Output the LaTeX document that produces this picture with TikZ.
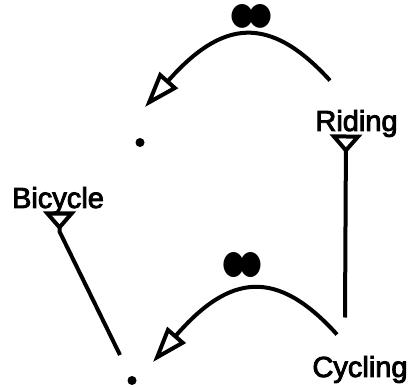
\documentclass[tikz,border=0pt]{standalone}
\usepackage{fontspec}
\setmainfont{Liberation Sans}
\newfontfamily\lblfont{Liberation Sans}[FakeBold=3]
\newfontfamily\symfont{DejaVu Sans}
\usetikzlibrary{arrows.meta,calc}
\begin{document}
\begin{tikzpicture}[x=1pt,y=-1pt, line width=4pt,
  lbl/.style={font=\lblfont\fontsize{29}{29}\selectfont, inner sep=0pt, anchor=base},
  dotnode/.style={circle, fill, inner sep=0pt, minimum size=9pt},
  eyes/.style={inner sep=0pt},
  assoc/.style={-{Triangle[open, length=36pt, width=24pt]}},
  gen/.style={-{Triangle[open, reversed, length=19pt, width=32pt]}}]
\useasboundingbox (0,0) rectangle (410,387);
\node[lbl] (riding) at (356.5,131) {Riding};
\node[lbl] (cycling) at (360,377) {Cycling};
\node[lbl] (bicycle) at (58,208) {Bicycle};
\node[dotnode] (d1) at (140,142.5) {};
\node[dotnode] (d2) at (132,380.5) {};
\node[eyes] (e1) at (251.5,16) {\resizebox{42pt}{20pt}{\symfont ●\kern-0.22em●}};
\node[eyes] (e2) at (242.5,265) {\resizebox{40pt}{21pt}{\symfont ●\kern-0.22em●}};
% associations
\draw[assoc] ($(riding)+(-26.5,-43)$) .. controls ($(riding)+(-87.5,-110)$) and ($(d1)+(82,-122.5)$) .. ($(d1)+(5,-35.5)$);
\draw[assoc] ($(cycling)+(-23,-35)$) .. controls ($(cycling)+(-83.5,-102)$) and ($(d2)+(97.5,-106.5)$) .. ($(d2)+(21,-18.5)$);
% generalisations
\draw[gen] ($(cycling)+(-15,-52)$) -- ($(riding)+(-10.5,11)$);
\draw[gen] ($(d2)+(-12,-25.5)$) -- ($(bicycle)+(1.5,31)$) -- ($(bicycle)+(1.5,11)$);
\end{tikzpicture}
\end{document}
